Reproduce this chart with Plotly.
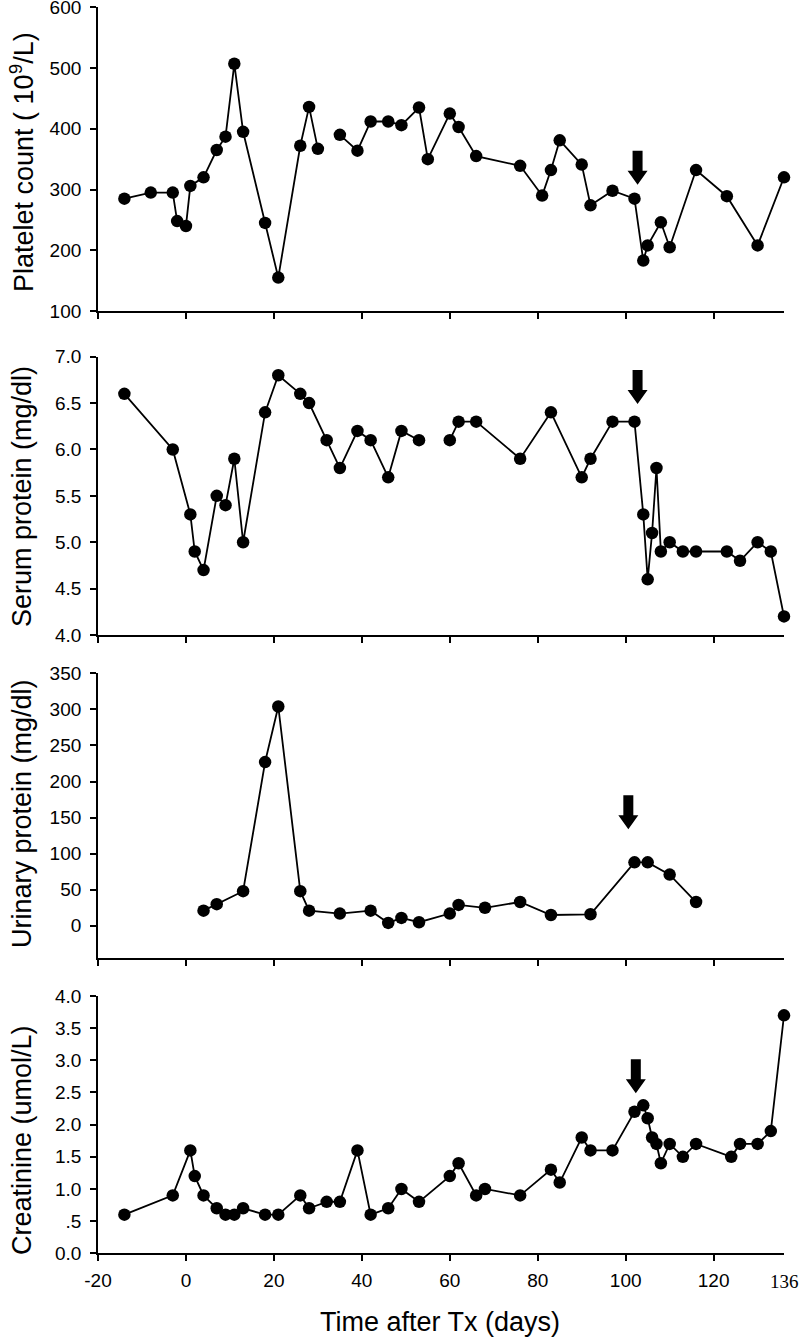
import plotly.graph_objects as go

# ---------------- data ----------------
platelet_days = [-14, -8, -3, -2, 0, 1, 4, 7, 9, 11, 13, 18, 21, 26, 28, 30, None,
                 35, 39, 42, 46, 49, 53, 55, 60, 62, 66, 76, 81, 83, 85, 90, 92, 97,
                 102, 104, 105, 108, 110, 116, 123, 130, 136]
platelet_vals = [285, 295, 295, 248, 240, 306, 320, 365, 387, 507, 395, 245, 155, 372, 436, 367, None,
                 390, 364, 412, 412, 406, 435, 350, 425, 403, 355, 339, 290, 332, 381, 341, 274, 298,
                 285, 183, 208, 246, 205, 332, 289, 208, 320]

serum_days = [-14, -3, 1, 2, 4, 7, 9, 11, 13, 18, 21, 26, 28, 32, 35, 39, 42, 46, 49, 53, None,
              60, 62, 66, 76, 83, 90, 92, 97, 102, 104, 105, 106, 107, 108, 110, 113, 116, 123,
              126, 130, 133, 136]
serum_vals = [6.6, 6.0, 5.3, 4.9, 4.7, 5.5, 5.4, 5.9, 5.0, 6.4, 6.8, 6.6, 6.5, 6.1, 5.8, 6.2, 6.1, 5.7, 6.2, 6.1, None,
              6.1, 6.3, 6.3, 5.9, 6.4, 5.7, 5.9, 6.3, 6.3, 5.3, 4.6, 5.1, 5.8, 4.9, 5.0, 4.9, 4.9, 4.9,
              4.8, 5.0, 4.9, 4.2]

urine_days = [4, 7, 13, 18, 21, 26, 28, 35, 42, 46, 49, 53, 60, 62, 68, 76, 83, 92, 102, 105, 110, 116]
urine_vals = [21, 30, 48, 227, 304, 48, 21, 17, 21, 4, 11, 5, 17, 29, 25, 33, 15, 16, 88, 88, 71, 33]

creat_days = [-14, -3, 1, 2, 4, 7, 9, 11, 13, 18, 21, 26, 28, 32, 35, 39, 42, 46, 49, 53, 60, 62,
              66, 68, 76, 83, 85, 90, 92, 97, 102, 104, 105, 106, 107, 108, 110, 113, 116, 124,
              126, 130, 133, 136]
creat_vals = [0.6, 0.9, 1.6, 1.2, 0.9, 0.7, 0.6, 0.6, 0.7, 0.6, 0.6, 0.9, 0.7, 0.8, 0.8, 1.6, 0.6, 0.7,
              1.0, 0.8, 1.2, 1.4, 0.9, 1.0, 0.9, 1.3, 1.1, 1.8, 1.6, 1.6, 2.2, 2.3, 2.1, 1.8, 1.7, 1.4,
              1.7, 1.5, 1.7, 1.5, 1.7, 1.7, 1.9, 3.7]

arrow_days = [102.7, 102.7, 100.6, 102.3]
arrow_tips = [308, 6.49, 134, 2.49]

x_ticks = [-20, 0, 20, 40, 60, 80, 100, 120]
x_ticktext = ["-20", "0", "20", "40", "60", "80", "100", "120"]
x_end_label = "136"

y_titles = ["Platelet count ( 10<sup>9</sup>/L)", "Serum protein (mg/dl)",
            "Urinary protein (mg/dl)", "Creatinine (umol/L)"]
y_ranges = [[100, 600], [4.0, 7.0], [-45, 350], [0.0, 4.0]]
y_tickvals = [[100, 200, 300, 400, 500, 600],
              [4.0, 4.5, 5.0, 5.5, 6.0, 6.5, 7.0],
              [0, 50, 100, 150, 200, 250, 300, 350],
              [0.0, 0.5, 1.0, 1.5, 2.0, 2.5, 3.0, 3.5, 4.0]]
y_ticktext = [["100", "200", "300", "400", "500", "600"],
              ["4.0", "4.5", "5.0", "5.5", "6.0", "6.5", "7.0"],
              ["0", "50", "100", "150", "200", "250", "300", "350"],
              ["0.0", ".5", "1.0", "1.5", "2.0", "2.5", "3.0", "3.5", "4.0"]]
x_title = "Time after Tx (days)"

# ---------------- layout geometry (screen pixels) ----------------
W, H = 800, 1339
plot_left, plot_right = 98, 784
panel_px = [(7.3, 311), (356.7, 635), (673.3, 958.3), (996, 1253.3)]
title_centers = [162, 497, 814, 1140]
title_x = 22
x_end_label_y = 1281
x_title_pos = (440, 1322)


def clamp(v):
    return min(1.0, max(0.0, v))


def px_x(v):
    return clamp(v / W)


def px_y(v):
    return clamp(1 - v / H)


FONT = "Liberation Sans, Arial, sans-serif"
TICK_FONT = dict(family=FONT, size=19, color="black")
TITLE_FONT = dict(family=FONT, size=27, color="black")

fig = go.Figure()
series = [(platelet_days, platelet_vals), (serum_days, serum_vals),
          (urine_days, urine_vals), (creat_days, creat_vals)]

layout = dict(width=W, height=H, margin=dict(l=0, r=0, t=0, b=0, pad=0),
              paper_bgcolor="white", plot_bgcolor="white", showlegend=False,
              font=dict(family=FONT, size=19, color="black"))

shapes = []
annotations = []
for i, (xs, ys) in enumerate(series):
    n = i + 1
    xa = "x" if n == 1 else f"x{n}"
    ya = "y" if n == 1 else f"y{n}"
    fig.add_trace(go.Scatter(x=xs, y=ys, mode="lines+markers", xaxis=xa, yaxis=ya,
                             line=dict(color="black", width=1.8),
                             marker=dict(color="black", size=12.5),
                             connectgaps=False, hoverinfo="x+y", cliponaxis=False))
    top, bot = panel_px[i]
    dom_y = [px_y(bot), px_y(top)]
    xkey = "xaxis" if n == 1 else f"xaxis{n}"
    ykey = "yaxis" if n == 1 else f"yaxis{n}"
    layout[xkey] = dict(domain=[px_x(plot_left), px_x(plot_right)], range=[-20, 136],
                        anchor=ya, showline=True, linecolor="black", linewidth=1.8,
                        ticks="outside", ticklen=6, tickwidth=1.8, tickcolor="black",
                        tickvals=x_ticks, ticktext=x_ticktext, showticklabels=(n == 4),
                        showgrid=False, zeroline=False, automargin=False,
                        ticklabelstandoff=3, ticklabeloverflow="allow", tickfont=TICK_FONT)
    layout[ykey] = dict(domain=dom_y, range=y_ranges[i], anchor=xa,
                        showline=True, linecolor="black", linewidth=1.8,
                        ticks="outside", ticklen=6, tickwidth=1.8, tickcolor="black",
                        tickvals=y_tickvals[i], ticktext=y_ticktext[i],
                        showgrid=False, zeroline=False, automargin=False,
                        ticklabelstandoff=5, ticklabeloverflow="allow", tickfont=TICK_FONT)
    annotations.append(dict(text=y_titles[i], xref="paper", yref="paper",
                            x=px_x(title_x), y=px_y(title_centers[i]), textangle=-90,
                            showarrow=False, xanchor="center", yanchor="middle",
                            font=TITLE_FONT))
    shapes.append(dict(type="path", xref=xa, yref=ya, xsizemode="pixel", ysizemode="pixel",
                       xanchor=arrow_days[i], yanchor=arrow_tips[i],
                       path="M -5,34 L 5,34 L 5,14 L 10,14 L 0,0 L -10,14 L -5,14 Z",
                       fillcolor="black", line=dict(color="black", width=0)))

annotations.append(dict(text=x_end_label, xref="x4", yref="paper", x=136,
                        y=px_y(x_end_label_y), showarrow=False, xanchor="center",
                        yanchor="middle",
                        font=dict(family="Liberation Serif, Times New Roman, serif", size=19,
                                  color="black")))
annotations.append(dict(text=x_title, xref="paper", yref="paper", x=px_x(x_title_pos[0]),
                        y=px_y(x_title_pos[1]), showarrow=False, xanchor="center",
                        yanchor="middle", font=TITLE_FONT))

layout["shapes"] = shapes
layout["annotations"] = annotations
fig.update_layout(**layout)
fig.write_html(
    "out.html",
    config={"displayModeBar": False},
    post_script="document.body.style.margin='0px';"
                "document.documentElement.style.overflow='hidden';",
)
